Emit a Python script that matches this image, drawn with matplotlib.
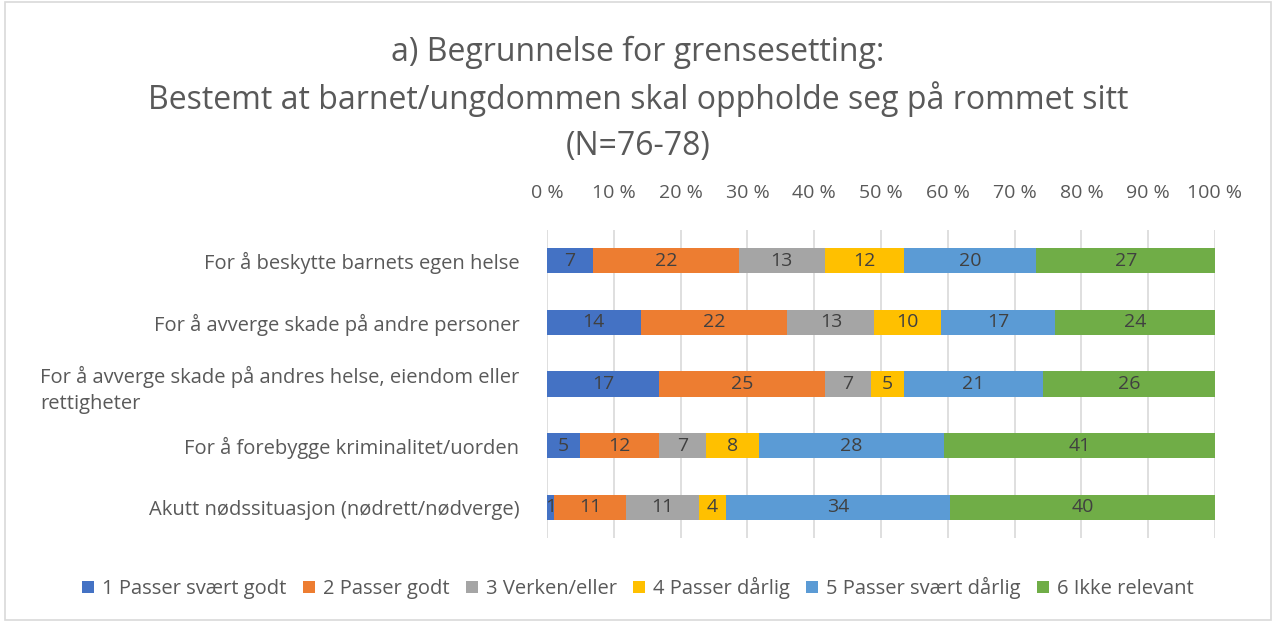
import matplotlib.pyplot as plt
import matplotlib.patches as mpatches
import numpy as np

plt.rcParams['font.family'] = ['Open Sans', 'DejaVu Sans']

categories = [
    "For å beskytte barnets egen helse",
    "For å avverge skade på andre personer",
    "For å avverge skade på andres helse, eiendom eller\nrettigheter",
    "For å forebygge kriminalitet/uorden",
    "Akutt nødssituasjon (nødrett/nødverge)",
]
series = ["1 Passer svært godt", "2 Passer godt", "3 Verken/eller",
          "4 Passer dårlig", "5 Passer svært dårlig", "6 Ikke relevant"]
values = np.array([
    [7, 22, 13, 12, 20, 27],
    [14, 22, 13, 10, 17, 24],
    [17, 25, 7, 5, 21, 26],
    [5, 12, 7, 8, 28, 41],
    [1, 11, 11, 4, 34, 40],
])
colors = ["#4472C4", "#ED7D31", "#A5A5A5", "#FFC000", "#5B9BD5", "#70AD47"]
title_lines = ["a) Begrunnelse for grensesetting:",
               "Bestemt at barnet/ungdommen skal oppholde seg på rommet sitt",
               "(N=76-78)"]

fig = plt.figure(figsize=(12.76, 6.22), dpi=100)
ax = fig.add_axes([547 / 1276, 1 - 538 / 622, 668 / 1276, 308 / 622])

# outer frame like the Excel chart area
fig.patches.append(mpatches.Rectangle((0.004, 0.004), 0.992, 0.992, transform=fig.transFigure,
                                      fill=False, edgecolor="#D9D9D9", lw=1.2))

share = values / values.sum(axis=1, keepdims=True) * 100
y = np.arange(len(categories))
left = np.zeros(len(categories))
for j, name in enumerate(series):
    bars = ax.barh(y, share[:, j], left=left, height=0.41, color=colors[j], label=name, zorder=3)
    for i, b in enumerate(bars):
        ax.text(left[i] + share[i, j] / 2, y[i], str(values[i, j]), ha="center", va="center",
                fontsize=14, color="#404040", zorder=4)
    left += share[:, j]

ax.set_xlim(0, 100)
ax.set_ylim(len(categories) - 0.5, -0.5)
ax.set_yticks(y)
ax.set_yticklabels(categories, fontsize=14.5, color="#595959")
for t in ax.get_yticklabels():
    t.set_multialignment("left")
    t.set_linespacing(1.45)
ax.set_xticks(np.arange(0, 101, 10))
ax.set_xticklabels([f"{v} %" for v in range(0, 101, 10)], fontsize=14, color="#595959")
ax.xaxis.tick_top()
ax.tick_params(axis="x", length=0, pad=20)
ax.tick_params(axis="y", length=0, pad=20)
ax.grid(axis="x", color="#D9D9D9", lw=1.2, zorder=0)
for s in ax.spines.values():
    s.set_visible(False)

for k, line in enumerate(title_lines):
    fig.text(0.5, 1 - (52 + 47 * k) / 622, line, ha="center", va="center",
             fontsize=23, color="#595959")

fig.legend(loc="center", bbox_to_anchor=(0.5, 1 - 588 / 622), ncol=6, frameon=False,
           fontsize=14.5, handlelength=0.6, handleheight=0.6, handletextpad=0.4,
           columnspacing=0.8, labelcolor="#595959")

fig.savefig("out.png", dpi=100)
